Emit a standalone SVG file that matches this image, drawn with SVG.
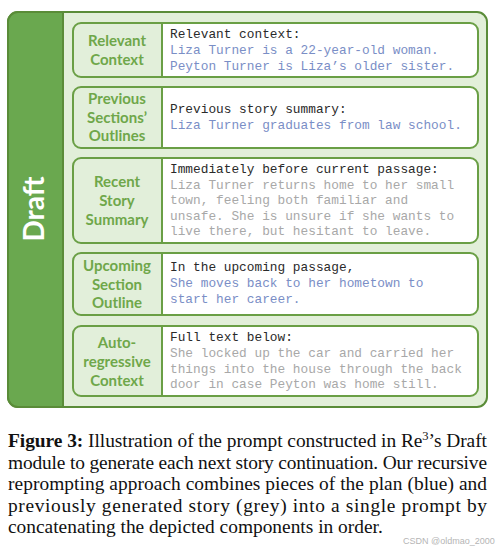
<svg xmlns="http://www.w3.org/2000/svg" width="499" height="550" viewBox="0 0 499 550">
<style>
.lbl{font-family:Lato,"Open Sans",sans-serif;font-weight:bold;font-size:15px;fill:#6fa74a;text-anchor:middle}
.mono{font-family:"Liberation Mono","Courier New",monospace;font-size:12.8px}
.hd{fill:#2a2a2a}
.bl{fill:#7a8ec6}
.gr{fill:#a8a8a8}
.cell{fill:#e2efda}
.box{fill:none;stroke:#6a9f45;stroke-width:2}
.div{stroke:#6a9f45;stroke-width:2}
.cap{font-family:"Liberation Serif","Times New Roman",serif;font-size:19.4px;fill:#111}
</style>
<rect width="499" height="550" fill="#ffffff"/>
<g id="frame">
<rect x="8" y="12" width="479" height="395" rx="10" fill="#e2efd9" stroke="#5a8c38" stroke-width="2"/>
<path d="M18,12 H63 V407 H18 A10,10 0 0 1 8,397 V22 A10,10 0 0 1 18,12 Z" fill="#6aa84f" stroke="#5a8c38" stroke-width="2"/>
<text x="0" y="0" transform="translate(44,209) rotate(-90)" font-family="Lato,'Open Sans',sans-serif" font-weight="bold" font-size="28" fill="#ffffff" text-anchor="middle">Draft</text>
</g>
<g id="relevant-context">
<rect x="73" y="23" width="405" height="54" rx="8" fill="#ffffff"/>
<path d="M81,23 H162 V77 H81 A8,8 0 0 1 73,69 V31 A8,8 0 0 1 81,23 Z" class="cell"/>
<line x1="162" y1="23" x2="162" y2="77" class="div"/>
<rect x="73" y="23" width="405" height="54" rx="8" class="box"/>
<text class="lbl" x="117" y="46">Relevant</text>
<text class="lbl" x="117" y="65">Context</text>
<text class="mono hd" x="170" y="38">Relevant context:</text>
<text class="mono bl" x="170" y="54">Liza Turner is a 22-year-old woman.</text>
<text class="mono bl" x="170" y="70">Peyton Turner is Liza’s older sister.</text>
</g>
<g id="previous-outlines">
<rect x="73" y="87" width="405" height="61" rx="8" fill="#ffffff"/>
<path d="M81,87 H162 V148 H81 A8,8 0 0 1 73,140 V95 A8,8 0 0 1 81,87 Z" class="cell"/>
<line x1="162" y1="87" x2="162" y2="148" class="div"/>
<rect x="73" y="87" width="405" height="61" rx="8" class="box"/>
<text class="lbl" x="117" y="104">Previous</text>
<text class="lbl" x="117" y="123">Sections’</text>
<text class="lbl" x="117" y="141">Outlines</text>
<text class="mono hd" x="170" y="113">Previous story summary:</text>
<text class="mono bl" x="170" y="129">Liza Turner graduates from law school.</text>
</g>
<g id="recent-summary">
<rect x="73" y="158" width="405" height="85" rx="8" fill="#ffffff"/>
<path d="M81,158 H162 V243 H81 A8,8 0 0 1 73,235 V166 A8,8 0 0 1 81,158 Z" class="cell"/>
<line x1="162" y1="158" x2="162" y2="243" class="div"/>
<rect x="73" y="158" width="405" height="85" rx="8" class="box"/>
<text class="lbl" x="117" y="187">Recent</text>
<text class="lbl" x="117" y="206">Story</text>
<text class="lbl" x="117" y="225">Summary</text>
<text class="mono hd" x="170" y="173">Immediately before current passage:</text>
<text class="mono gr" x="170" y="189">Liza Turner returns home to her small</text>
<text class="mono gr" x="170" y="204">town, feeling both familiar and</text>
<text class="mono gr" x="170" y="220">unsafe. She is unsure if she wants to</text>
<text class="mono gr" x="170" y="235">live there, but hesitant to leave.</text>
</g>
<g id="upcoming-outline">
<rect x="73" y="253" width="405" height="62" rx="8" fill="#ffffff"/>
<path d="M81,253 H162 V315 H81 A8,8 0 0 1 73,307 V261 A8,8 0 0 1 81,253 Z" class="cell"/>
<line x1="162" y1="253" x2="162" y2="315" class="div"/>
<rect x="73" y="253" width="405" height="62" rx="8" class="box"/>
<text class="lbl" x="117" y="271">Upcoming</text>
<text class="lbl" x="117" y="290">Section</text>
<text class="lbl" x="117" y="308">Outline</text>
<text class="mono hd" x="170" y="271">In the upcoming passage,</text>
<text class="mono bl" x="170" y="287">She moves back to her hometown to</text>
<text class="mono bl" x="170" y="303">start her career.</text>
</g>
<g id="autoregressive-context">
<rect x="73" y="326" width="405" height="70" rx="8" fill="#ffffff"/>
<path d="M81,326 H162 V396 H81 A8,8 0 0 1 73,388 V334 A8,8 0 0 1 81,326 Z" class="cell"/>
<line x1="162" y1="326" x2="162" y2="396" class="div"/>
<rect x="73" y="326" width="405" height="70" rx="8" class="box"/>
<text class="lbl" x="117" y="348">Auto-</text>
<text class="lbl" x="117" y="367">regressive</text>
<text class="lbl" x="117" y="386">Context</text>
<text class="mono hd" x="170" y="341">Full text below:</text>
<text class="mono gr" x="170" y="357">She locked up the car and carried her</text>
<text class="mono gr" x="170" y="373">things into the house through the back</text>
<text class="mono gr" x="170" y="388">door in case Peyton was home still.</text>
</g>
<g id="caption">
<text class="cap" x="8" y="447" textLength="479" lengthAdjust="spacing"><tspan font-weight="bold">Figure 3:</tspan> Illustration of the prompt constructed in Re<tspan font-size="12.5" dy="-7">3</tspan><tspan dy="7">’s Draft</tspan></text>
<text class="cap" x="8" y="469" textLength="479" lengthAdjust="spacing">module to generate each next story continuation. Our recursive</text>
<text class="cap" x="8" y="490" textLength="479" lengthAdjust="spacing">reprompting approach combines pieces of the plan (blue) and</text>
<text class="cap" x="8" y="512" textLength="479" lengthAdjust="spacing">previously generated story (grey) into a single prompt by</text>
<text class="cap" x="8" y="533">concatenating the depicted components in order.</text>
<text x="403" y="544" font-family="'Liberation Sans',Arial,sans-serif" font-size="9" fill="#b5b5b5">CSDN @oldmao_2000</text>
</g>
</svg>
